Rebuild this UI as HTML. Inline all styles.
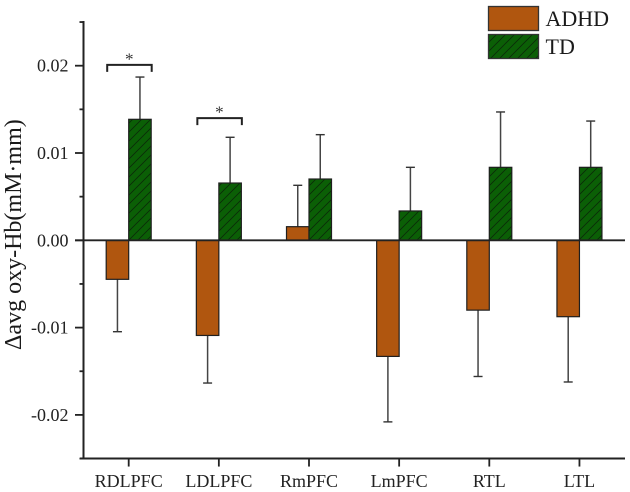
<!DOCTYPE html>
<html lang="en">
<head>
<meta charset="utf-8">
<title>Oxy-Hb bar chart</title>
<style>
html,body{margin:0;padding:0;background:#fff;}
svg{display:block;font-family:"Liberation Serif",serif;}
</style>
</head>
<body>
<svg id="chart" xmlns="http://www.w3.org/2000/svg" width="630" height="492" viewBox="0 0 630 492">
<defs>
<pattern id="hatch" patternUnits="userSpaceOnUse" width="9" height="9">
<rect width="9" height="9" fill="#0b5f06"></rect>
<path d="M-2 2L2 -2M0 9L9 0M7 11L11 7" stroke="#0a2a08" stroke-width="0.8" fill="none"></path>
</pattern>
</defs>
<g id="bars"></g>
<g id="axes"></g>
<g id="annotations"></g>
<text transform="translate(21,350) rotate(-90)" font-size="24" fill="#1a1a1a">Δavg oxy-Hb(mM·mm)</text>
<g>
<rect x="488.5" y="6.5" width="50" height="24" fill="#b0560f" stroke="#333" stroke-width="1.3"></rect>
<text x="545.5" y="26" font-size="22" fill="#1a1a1a">ADHD</text>
<rect x="488.5" y="34.5" width="50" height="24" fill="url(#hatch)" stroke="#333" stroke-width="1.3"></rect>
<text x="545.5" y="54" font-size="22" fill="#1a1a1a">TD</text>
</g>
</svg>
<script>
const categories = ["RDLPFC", "LDLPFC", "RmPFC", "LmPFC", "RTL", "LTL"];
const adhdValues = [-0.00447, -0.0109, 0.00156, -0.0133, -0.008, -0.00875];
const adhdErrorEnds = [-0.01047, -0.01635, 0.0063, -0.0208, -0.0156, -0.01623];
const tdValues = [0.01386, 0.00656, 0.00702, 0.00336, 0.00836, 0.00836];
const tdErrorEnds = [0.0187, 0.0118, 0.0121, 0.00836, 0.0147, 0.01366];
const yMajorTicks = [-0.02, -0.01, 0, 0.01, 0.02];
const yMinorTicks = [-0.025, -0.015, -0.005, 0.005, 0.015, 0.025];
const yTickLabels = ["-0.02", "-0.01", "0.00", "0.01", "0.02"];
const significantCategories = ["RDLPFC", "LDLPFC"];
const significanceLevels = [0.0201, 0.0140];

const NS = "http://www.w3.org/2000/svg";
function yScale(v) { return 240.3 - v * 8730; }
function xScale(i) { return 128.7 + i * 90.15; }
const barWidth = 22.5;

function mk(parent, tag, attrs, text) {
  const el = document.createElementNS(NS, tag);
  for (const k in attrs) el.setAttribute(k, attrs[k]);
  if (text !== undefined) el.textContent = text;
  parent.appendChild(el);
  return el;
}
const barsG = document.getElementById("bars");
const axesG = document.getElementById("axes");
const annG = document.getElementById("annotations");

function drawBar(i, value, errEnd, left, fill, label) {
  const y0 = yScale(0), y1 = yScale(value), ye = yScale(errEnd);
  const cx = left + barWidth / 2;
  const errLine = mk(barsG, "line", {x1: cx, x2: cx, y1: y1, y2: ye, stroke: "#444", "stroke-width": 1.5});
  
  
  const errCap = mk(barsG, "line", {x1: cx - 4.5, x2: cx + 4.5, y1: ye, y2: ye, stroke: "#333", "stroke-width": 1.4});
  
  
  const bar = mk(barsG, "rect", {x: left, y: Math.min(y0, y1), width: barWidth, height: Math.abs(y1 - y0), fill: fill, stroke: "#1f1f1f", "stroke-width": 1.2});
  
  
}

categories.forEach(function (c, i) {
  const x = xScale(i);
  drawBar(i, adhdValues[i], adhdErrorEnds[i], x - barWidth, "#b0560f", "adhd-" + c.toLowerCase());
  drawBar(i, tdValues[i], tdErrorEnds[i], x, "url(#hatch)", "td-" + c.toLowerCase());
});

const yAxis = mk(axesG, "line", {x1: 83.5, x2: 83.5, y1: yScale(0.025) - 1, y2: yScale(-0.025) + 1, stroke: "#222", "stroke-width": 2});


const xAxisBottom = mk(axesG, "line", {x1: 80, x2: 625, y1: yScale(-0.025), y2: yScale(-0.025), stroke: "#222", "stroke-width": 2});


const zeroLine = mk(axesG, "line", {x1: 75, x2: 625, y1: yScale(0), y2: yScale(0), stroke: "#222", "stroke-width": 1.8});



yMajorTicks.forEach(function (v, i) {
  const t = mk(axesG, "line", {x1: 75, x2: 83.5, y1: yScale(v), y2: yScale(v), stroke: "#222", "stroke-width": 1.8});
  
  
  const l = mk(axesG, "text", {x: 68.5, y: yScale(v) + 6, "font-size": 18, "text-anchor": "end", fill: "#222"}, yTickLabels[i]);
  
  
});
yMinorTicks.forEach(function (v) {
  const t = mk(axesG, "line", {x1: 79.5, x2: 83.5, y1: yScale(v), y2: yScale(v), stroke: "#222", "stroke-width": 1.8});
  
  
});
categories.forEach(function (c, i) {
  const x = xScale(i);
  const t = mk(axesG, "line", {x1: x, x2: x, y1: yScale(-0.025), y2: yScale(-0.025) + 8, stroke: "#222", "stroke-width": 1.8});
  
  
  const l = mk(axesG, "text", {x: x, y: 487, "font-size": 18, "text-anchor": "middle", fill: "#222"}, c);
  
  
});

significantCategories.forEach(function (c, i) {
  const x = xScale(categories.indexOf(c));
  const y = yScale(significanceLevels[i]);
  const b = mk(annG, "path", {d: "M" + (x - 21.5) + " " + (y + 7) + "V" + y + "H" + (x + 23) + "V" + (y + 7), fill: "none", stroke: "#222", "stroke-width": 2});
  
  
  const s = mk(annG, "text", {x: x + 0.5, y: y - 0.5, "font-size": 17, "text-anchor": "middle", fill: "#333"}, "*");
  
  
});
</script>
</body>
</html>
